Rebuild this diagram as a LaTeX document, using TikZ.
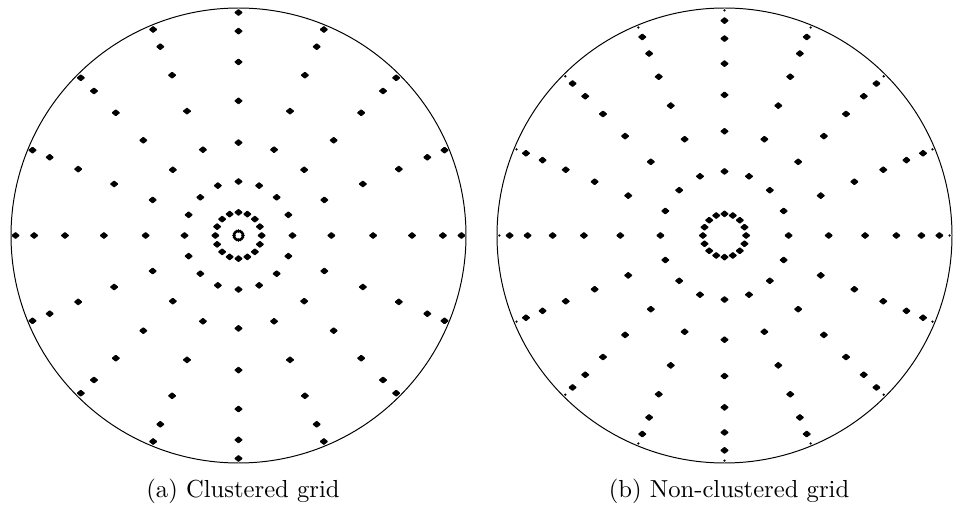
\documentclass[tikz,border=0pt]{standalone}
\begin{document}
\begin{tikzpicture}[x=0.406pt,y=-0.406pt,
  rim/.style={draw=black,line width=0.4pt},
  mk/.style={fill=black,draw=black,line width=0.3pt,rounded corners=0.2pt},
  captext/.style={anchor=base,inner sep=0pt,font=\normalsize}]
\useasboundingbox (0,0) rectangle (953,506);
\def\R{227.5}
% (a) clustered grid: Gauss-Legendre (8 points) mapped to [0,R]
\begin{scope}[shift={(238.5,235.5)}]
  \draw[rim] (0,0) circle[radius=\R];
  \foreach \a in {0,22.5,...,337.5}{
    \fill[black] (\a:0.0198550718*\R) circle[radius=1.8];
    \foreach \f in {0.1016667613,0.2372337950,0.4082826788,0.5917173212,0.7627662050,0.8983332387,0.9801449282}{
      \filldraw[mk,shift={(\a:\f*\R)}] (-3.8,0) -- (0,-3.1) -- (3.8,0) -- (0,3.1) -- cycle;
    }
  }
\end{scope}
% (b) non-clustered grid: positive Gauss-Legendre (16 points) nodes
\begin{scope}[shift={(724.5,235.5)}]
  \draw[rim] (0,0) circle[radius=\R];
  \foreach \a in {0,22.5,...,337.5}{
    \foreach \f in {0.0950125098,0.2816035508,0.4580167777,0.6178762444,0.7554044084,0.8656312024,0.9445750231}{
      \filldraw[mk,shift={(\a:\f*\R)}] (-3.8,0) -- (0,-3.1) -- (3.8,0) -- (0,3.1) -- cycle;
    }
    \fill[black] (\a:0.9894009350*\R) circle[radius=1.3];
  }
\end{scope}
\node[captext] (capa) at (243,497) {(a) Clustered grid};
\node[captext] (capb) at (729,497) {(b) Non-clustered grid};
\end{tikzpicture}
\end{document}
